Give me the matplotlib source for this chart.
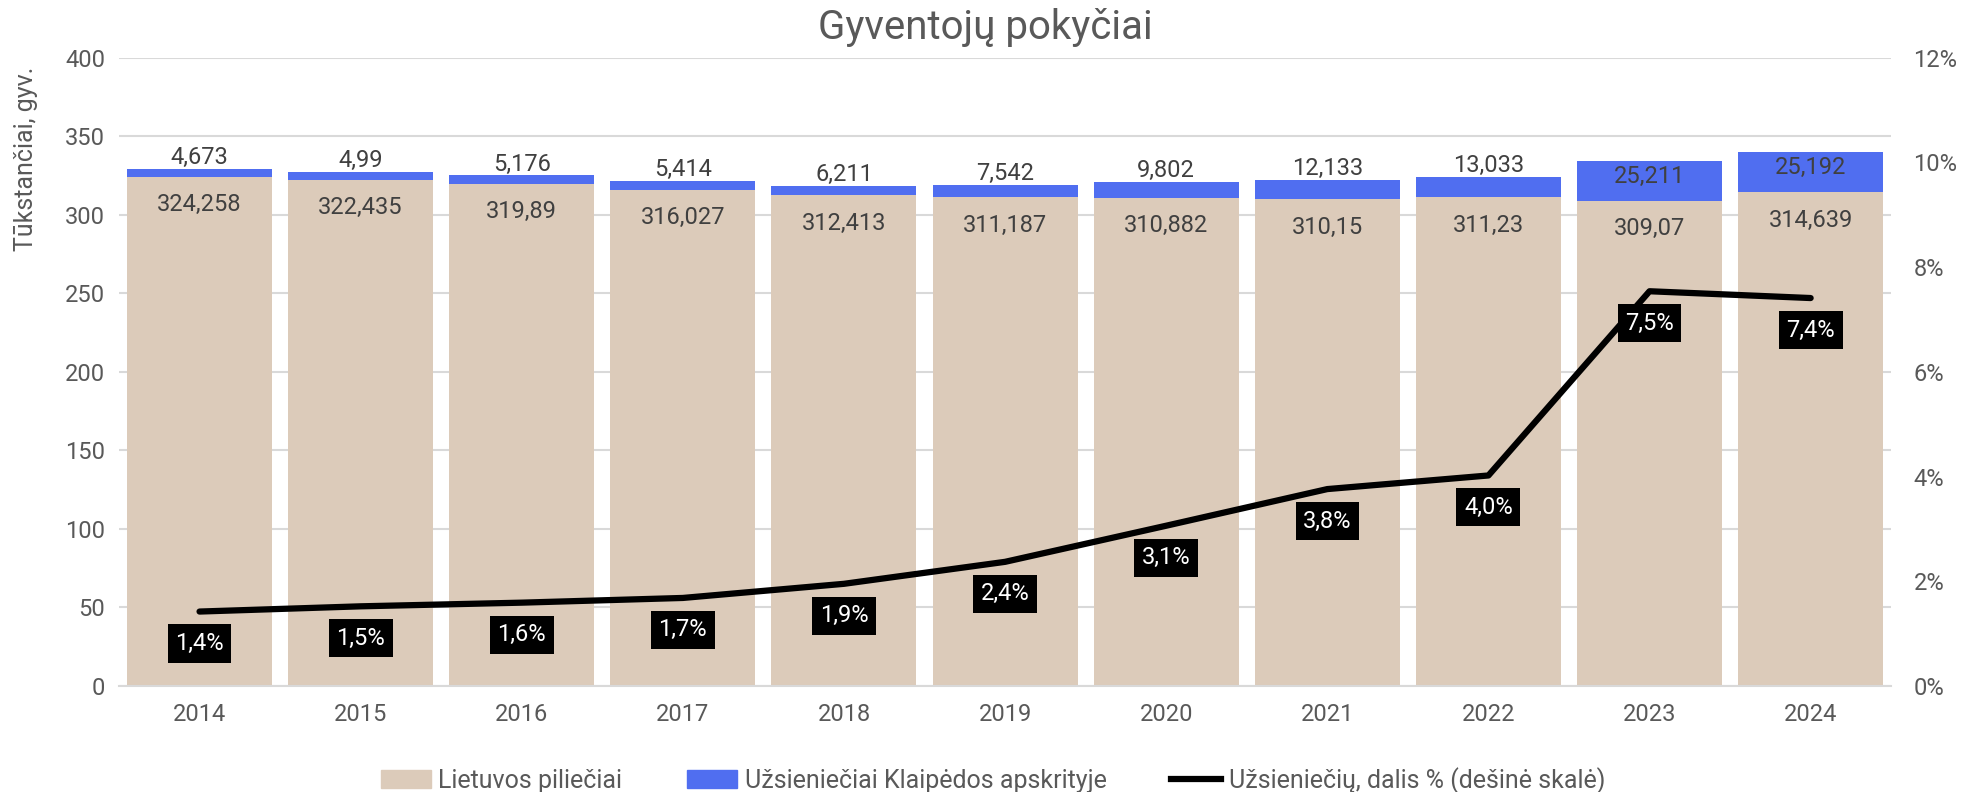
import matplotlib.pyplot as plt
from matplotlib.patches import Patch
from matplotlib.lines import Line2D

plt.rcParams['font.family'] = ['Roboto', 'DejaVu Sans']

# Duomenys (tūkst. gyv.)
metai = ["2014", "2015", "2016", "2017", "2018", "2019", "2020", "2021", "2022", "2023", "2024"]
lietuviai = [324.258, 322.435, 319.89, 316.027, 312.413, 311.187, 310.882, 310.15, 311.23, 309.07, 314.639]
uzsienieciai = [4.673, 4.99, 5.176, 5.414, 6.211, 7.542, 9.802, 12.133, 13.033, 25.211, 25.192]
dalis = [1.42, 1.52, 1.59, 1.68, 1.95, 2.37, 3.06, 3.76, 4.02, 7.54, 7.41]  # %

c_lt = "#dccbba"
c_uz = "#506ef0"
pilka = "#595959"
tekstas = "#404040"

fig = plt.figure(figsize=(19.7, 7.92), dpi=100)
ax = fig.add_axes([0.0604, 0.134, 0.8996, 0.793])
ax2 = ax.twinx()

x = range(len(metai))
ax.bar(x, lietuviai, width=0.9, color=c_lt, zorder=2)
ax.bar(x, uzsienieciai, width=0.9, bottom=lietuviai, color=c_uz, zorder=2)

def fmt(v):
    return f"{v:g}".replace(".", ",")

for i in x:
    # lietuvių etiketė – viršuje, viduje
    ax.annotate(fmt(lietuviai[i]), (i, lietuviai[i]), xytext=(0, -12), textcoords="offset points",
                ha="center", va="top", fontsize=17, color=tekstas, zorder=4)
    virsus = lietuviai[i] + uzsienieciai[i]
    if uzsienieciai[i] > 20:
        ax.annotate(fmt(uzsienieciai[i]), (i, virsus), xytext=(0, -3), textcoords="offset points",
                    ha="center", va="top", fontsize=17, color=tekstas, zorder=4)
    else:
        ax.annotate(fmt(uzsienieciai[i]), (i, virsus), xytext=(0, 0), textcoords="offset points",
                    ha="center", va="bottom", fontsize=17, color=tekstas, zorder=4)

ax.set_ylim(0, 400)
ax.set_yticks(range(0, 401, 50))
ax.set_xlim(-0.5, len(metai) - 0.5)
ax.set_xticks(list(x))
ax.set_xticklabels(metai)
ax.grid(True, axis="y", color="#d9d9d9", linewidth=1.5, zorder=0)
ax.set_axisbelow(True)

ax2.plot(list(x), dalis, color="black", linewidth=4.5, solid_capstyle="round", zorder=3)
for i in x:
    ax2.annotate(f"{dalis[i]:.1f}%".replace(".", ","), (i, dalis[i]), xytext=(0, -23),
                 textcoords="offset points", ha="center", va="center", fontsize=17, color="white",
                 bbox=dict(boxstyle="square,pad=0.32", fc="black", ec="none"), zorder=5)
ax2.set_ylim(0, 12)
ax2.set_yticks(range(0, 13, 2))
ax2.set_yticklabels([f"{v}%" for v in range(0, 13, 2)])

for a in (ax, ax2):
    for s in a.spines.values():
        s.set_visible(False)
    a.tick_params(length=0, labelsize=17, colors=pilka)
ax.tick_params(axis="x", pad=12)
ax.tick_params(axis="y", pad=10)
ax2.tick_params(axis="y", pad=16)
ax.spines["bottom"].set_visible(True)
ax.spines["bottom"].set_color("#d9d9d9")
ax.spines["bottom"].set_linewidth(1.5)

fig.text(0.5, 0.965, "Gyventojų pokyčiai", ha="center", va="center", fontsize=29, color=pilka)
fig.text(0.013, 0.80, "Tūkstančiai, gyv.", rotation=90, ha="center", va="center", fontsize=18, color=pilka)

rankenos = [Patch(color=c_lt), Patch(color=c_uz), Line2D([0], [0], color="black", linewidth=4.5)]
fig.legend(rankenos, ["Lietuvos piliečiai", "Užsieniečiai Klaipėdos apskrityje", "Užsieniečių, dalis % (dešinė skalė)"],
           loc="center", bbox_to_anchor=(0.504, 0.015), ncol=3, frameon=False, fontsize=18,
           labelcolor=pilka, handlelength=2.0, handleheight=0.75, columnspacing=2.6, handletextpad=0.3)

fig.savefig("out.png", dpi=100)
